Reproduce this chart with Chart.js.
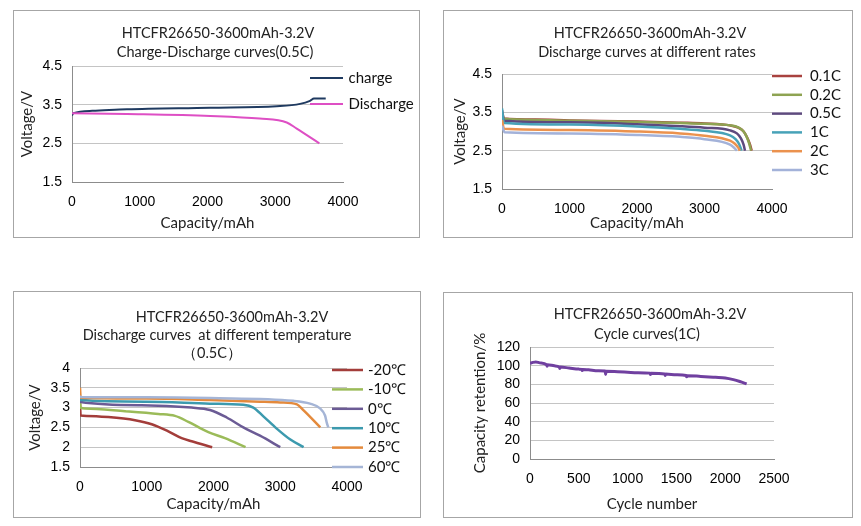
<!DOCTYPE html>
<html>
<head>
<meta charset="utf-8">
<script src="https://cdn.jsdelivr.net/npm/chart.js@4.4.1/dist/chart.umd.min.js"></script>
<style>
  body { margin: 0; background: #fff; width: 861px; height: 526px; position: relative; overflow: hidden; }
  .panel { position: absolute; border: 1px solid #a6a6a6; background: #fff; }
  .panel canvas { display: block; }
</style>
</head>
<body>
<div class="panel" style="left:13px;top:10px;width:405px;height:226px"><canvas id="chargeChart" width="405" height="226"></canvas></div>
<div class="panel" style="left:443px;top:10px;width:408px;height:226px"><canvas id="rateChart" width="408" height="226"></canvas></div>
<div class="panel" style="left:13px;top:291px;width:406px;height:225px"><canvas id="tempChart" width="406" height="225"></canvas></div>
<div class="panel" style="left:443px;top:292px;width:408px;height:224px"><canvas id="cycleChart" width="408" height="224"></canvas></div>
<script>
// ---- data: [capacity mAh, voltage V] ----
const chargeCurve = [[0,3.22],[20,3.28],[300,3.34],[811,3.38],[2040,3.42],[3022,3.46],[3366,3.52],[3513,3.6],[3572,3.66],[3745,3.66]];
const dischargeCurve = [[0,3.28],[811,3.26],[2040,3.21],[2769,3.14],[3170,3.04],[3317,2.88],[3651,2.5]];

const rateLabels = ['0.1C', '0.2C', '0.5C', '1C', '2C', '3C'];
const rate01C = [[0,3.55],[30,3.34],[500,3.31],[1000,3.29],[2000,3.26],[2637,3.23],[3000,3.21],[3378,3.16],[3500,3.1],[3580,3.0],[3630,2.85],[3670,2.68],[3700,2.5]];
const rate02C = [[0,3.45],[30,3.33],[500,3.3],[1000,3.28],[2000,3.25],[2637,3.22],[3000,3.2],[3378,3.16],[3500,3.11],[3570,3.02],[3620,2.88],[3660,2.7],[3690,2.5]];
const rate05C = [[0,3.5],[30,3.28],[1000,3.24],[2000,3.19],[2637,3.14],[3000,3.1],[3378,3.03],[3480,2.95],[3540,2.82],[3580,2.65],[3600,2.5]];
const rate1C = [[0,3.6],[30,3.22],[1000,3.18],[2000,3.13],[2637,3.07],[3000,3.02],[3378,2.9],[3460,2.8],[3510,2.68],[3550,2.5]];
const rate2C = [[0,3.3],[30,3.07],[1000,3.04],[2000,3.0],[2637,2.95],[3000,2.89],[3378,2.76],[3450,2.68],[3500,2.58],[3525,2.5]];
const rate3C = [[0,3.15],[40,2.98],[1000,2.95],[2000,2.91],[2637,2.86],[3000,2.8],[3378,2.66],[3430,2.59],[3480,2.5]];

const tempLabels = ['-20℃', '-10℃', '0℃', '10℃', '25℃', '60℃'];
const tempM20 = [[0,3.1],[10,2.8],[100,2.79],[424,2.76],[824,2.68],[1074,2.58],[1323,2.4],[1523,2.23],[1673,2.15],[1980,2.0]];
const tempM10 = [[0,3.2],[10,3.0],[75,2.98],[674,2.91],[1173,2.84],[1423,2.79],[1623,2.64],[1923,2.38],[2172,2.23],[2480,2.0]];
const temp0 = [[0,3.2],[10,3.14],[924,3.06],[1673,3.0],[1948,2.94],[2198,2.75],[2447,2.5],[2697,2.29],[3000,2.0]];
const temp10 = [[0,3.25],[10,3.19],[1000,3.15],[1948,3.1],[2447,3.07],[2597,3.0],[2747,2.78],[2947,2.47],[3146,2.2],[3350,2.0]];
const temp25 = [[0,3.5],[10,3.25],[1000,3.23],[1948,3.19],[2697,3.15],[3000,3.13],[3250,3.08],[3350,2.93],[3600,2.5]];
const temp60 = [[0,3.3],[10,3.27],[1000,3.26],[1948,3.24],[3196,3.17],[3446,3.1],[3596,2.98],[3671,2.8],[3700,2.6],[3720,2.5]];

// [cycle number, capacity retention %]
const cycleCurve = [[0,102.5],[30,103.5],[60,104],[100,103],[170,101],[175,99.5],[180,101],[250,99.8],[300,98.5],[305,97],[310,98.5],
  [400,97.5],[500,96.3],[530,96],[535,94.8],[540,96],[600,95.5],[700,94.5],[770,94.2],[775,90.5],[780,94],[900,93.5],[1000,93],
  [1100,92.5],[1230,92],[1235,90.5],[1240,91.8],[1380,91],[1385,89.5],[1390,91],[1500,90.2],[1600,89.5],[1605,88],[1610,89.3],
  [1750,88.5],[1900,87.5],[2000,86.8],[2084,85],[2150,83],[2220,80.5]];

const capTicks = [0, 1000, 2000, 3000, 4000];
const voltTicks = [1.5, 2.5, 3.5, 4.5];
const tempVoltTicks = [1.5, 2, 2.5, 3, 3.5, 4];
const cycleTicks = [0, 500, 1000, 1500, 2000, 2500];
const retentionTicks = [0, 20, 40, 60, 80, 100, 120];

const chargeTitle = ['HTCFR26650-3600mAh-3.2V', 'Charge-Discharge curves(0.5C)'];
const rateTitle = ['HTCFR26650-3600mAh-3.2V', 'Discharge curves at different rates'];
const tempTitle = ['HTCFR26650-3600mAh-3.2V', 'Discharge curves  at different temperature', '（0.5C）'];
const cycleTitle = ['HTCFR26650-3600mAh-3.2V', 'Cycle curves(1C)'];

const FONT = 'Lato, "Open Sans", sans-serif';
const TICK_FONT = '"Liberation Sans", Arial, sans-serif';

// chart title lines, each centred on its own x
const panelTitle = {
  id: 'panelTitle',
  afterDraw(chart, args, opts) {
    const ctx = chart.ctx;
    ctx.save();
    ctx.fillStyle = '#222';
    ctx.textAlign = 'center';
    ctx.textBaseline = 'middle';
    ctx.font = '14.5px ' + FONT;
    opts.text.forEach((t, i) => {
      ctx.fillText(t, opts.x[i], opts.y[i]);
    });
    ctx.restore();
  }
};

// legend drawn as Excel does it: short line + label, stacked at right
const lineLegend = {
  id: 'lineLegend',
  afterDraw(chart, args, opts) {
    const ctx = chart.ctx;
    ctx.save();
    ctx.font = '15px ' + FONT;
    ctx.textBaseline = 'middle';
    chart.data.datasets.forEach((ds, i) => {
      const y = opts.y + i * opts.gap;
      ctx.strokeStyle = ds.borderColor;
      ctx.lineWidth = opts.lineWidth;
      ctx.beginPath();
      ctx.moveTo(opts.x, y);
      ctx.lineTo(opts.x + opts.len, y);
      ctx.stroke();
      ctx.fillStyle = '#111';
      ctx.fillText(ds.label, opts.x + opts.len + opts.textGap, y);
    });
    ctx.restore();
  }
};

function lineSets(labels, curves, colors, width) {
  // later series drawn on top, like the spreadsheet
  return curves.map((points, i) => ({
    label: labels[i],
    data: points.map(p => ({ x: p[0], y: p[1] })),
    borderColor: colors[i],
    backgroundColor: colors[i],
    borderWidth: width,
    pointRadius: 0,
    cubicInterpolationMode: 'monotone',
    fill: false,
    order: curves.length - i
  }));
}

function buildChart(id, p) {
  return new Chart(document.getElementById(id), {
    type: 'line',
    data: { datasets: p.datasets },
    options: {
      responsive: false,
      animation: false,
      layout: { padding: { left: 4, right: p.padRight, top: p.padTop, bottom: 4 } },
      plugins: {
        legend: { display: false },
        tooltip: { enabled: false },
        title: { display: false },
        panelTitle: p.title,
        lineLegend: p.legend || false
      },
      scales: {
        x: {
          type: 'linear',
          min: p.xTicks[0],
          max: p.xTicks[p.xTicks.length - 1],
          afterBuildTicks: s => { s.ticks = p.xTicks.map(v => ({ value: v })); },
          afterFit: s => { s.height = p.xHeight; },
          grid: { display: false, drawTicks: false },
          border: { color: '#8c8c8c' },
          ticks: { padding: 12, maxRotation: 0, autoSkip: false, color: '#000', font: { family: TICK_FONT, size: 14 }, callback: v => String(v) },
          title: { display: true, text: p.xTitle, color: '#222', font: { family: FONT, size: 15 }, padding: { top: 0, bottom: p.xTitlePad } }
        },
        y: {
          min: p.yTicks[0],
          max: p.yTicks[p.yTicks.length - 1],
          afterBuildTicks: s => { s.ticks = p.yTicks.map(v => ({ value: v })); },
          afterFit: s => { s.width = p.yWidth; },
          grid: { color: '#c4c4c4', drawTicks: false },
          border: { color: '#8c8c8c' },
          ticks: { padding: 10, autoSkip: false, color: '#000', font: { family: TICK_FONT, size: 14 }, callback: v => String(v) },
          title: { display: true, text: p.yTitle, color: '#222', font: { family: FONT, size: 15 }, padding: { top: p.yTitlePad, bottom: 0 } }
        }
      }
    },
    plugins: [panelTitle, lineLegend]
  });
}

buildChart('chargeChart', {
  datasets: lineSets(['charge', 'Discharge'], [chargeCurve, dischargeCurve], ['#1f3a60', '#de4fc4'], 2),
  title: { text: chargeTitle, x: [204, 201], y: [22, 41] },
  padTop: 55, padRight: 76, xHeight: 51, yWidth: 54, xTitlePad: 1, yTitlePad: 0,
  xTicks: capTicks, yTicks: voltTicks,
  xTitle: 'Capacity/mAh', yTitle: 'Voltage/V',
  legend: { x: 296, len: 33, textGap: 5.5, y: 67, gap: 26, lineWidth: 2 }
});

buildChart('rateChart', {
  datasets: lineSets(rateLabels, [rate01C, rate02C, rate05C, rate1C, rate2C, rate3C],
    ['#a8423f', '#8ea352', '#5e4a7e', '#47a2b8', '#eb924e', '#a3b2d9'], 2.5),
  title: { text: rateTitle, x: [206, 203], y: [22, 41] },
  padTop: 63, padRight: 80, xHeight: 44, yWidth: 54, xTitlePad: 1, yTitlePad: 3,
  xTicks: capTicks, yTicks: voltTicks,
  xTitle: 'Capacity/mAh', yTitle: 'Voltage/V',
  legend: { x: 328, len: 30, textGap: 8, y: 65, gap: 18.8, lineWidth: 2.5 }
});

buildChart('tempChart', {
  datasets: lineSets(tempLabels, [tempM20, tempM10, temp0, temp10, temp25, temp60],
    ['#a33d3a', '#9bbb59', '#6b5b95', '#3c9aae', '#e48a3c', '#a5b5d6'], 2.5),
  title: { text: tempTitle, x: [218, 203, 198], y: [25, 43, 61] },
  padTop: 76, padRight: 73, xHeight: 46, yWidth: 62, xTitlePad: 0, yTitlePad: 8,
  xTicks: capTicks, yTicks: tempVoltTicks,
  xTitle: 'Capacity/mAh', yTitle: 'Voltage/V',
  legend: { x: 318, len: 31, textGap: 5, y: 78, gap: 19.4, lineWidth: 2.5 }
});

buildChart('cycleChart', {
  datasets: lineSets(['Cycle'], [cycleCurve], ['#7040a0'], 3),
  title: { text: cycleTitle, x: [206, 203], y: [21, 41] },
  padTop: 54, padRight: 78, xHeight: 54, yWidth: 82, xTitlePad: 0, yTitlePad: 23,
  xTicks: cycleTicks, yTicks: retentionTicks,
  xTitle: 'Cycle number', yTitle: 'Capacity retention/%'
});
</script>
</body>
</html>
